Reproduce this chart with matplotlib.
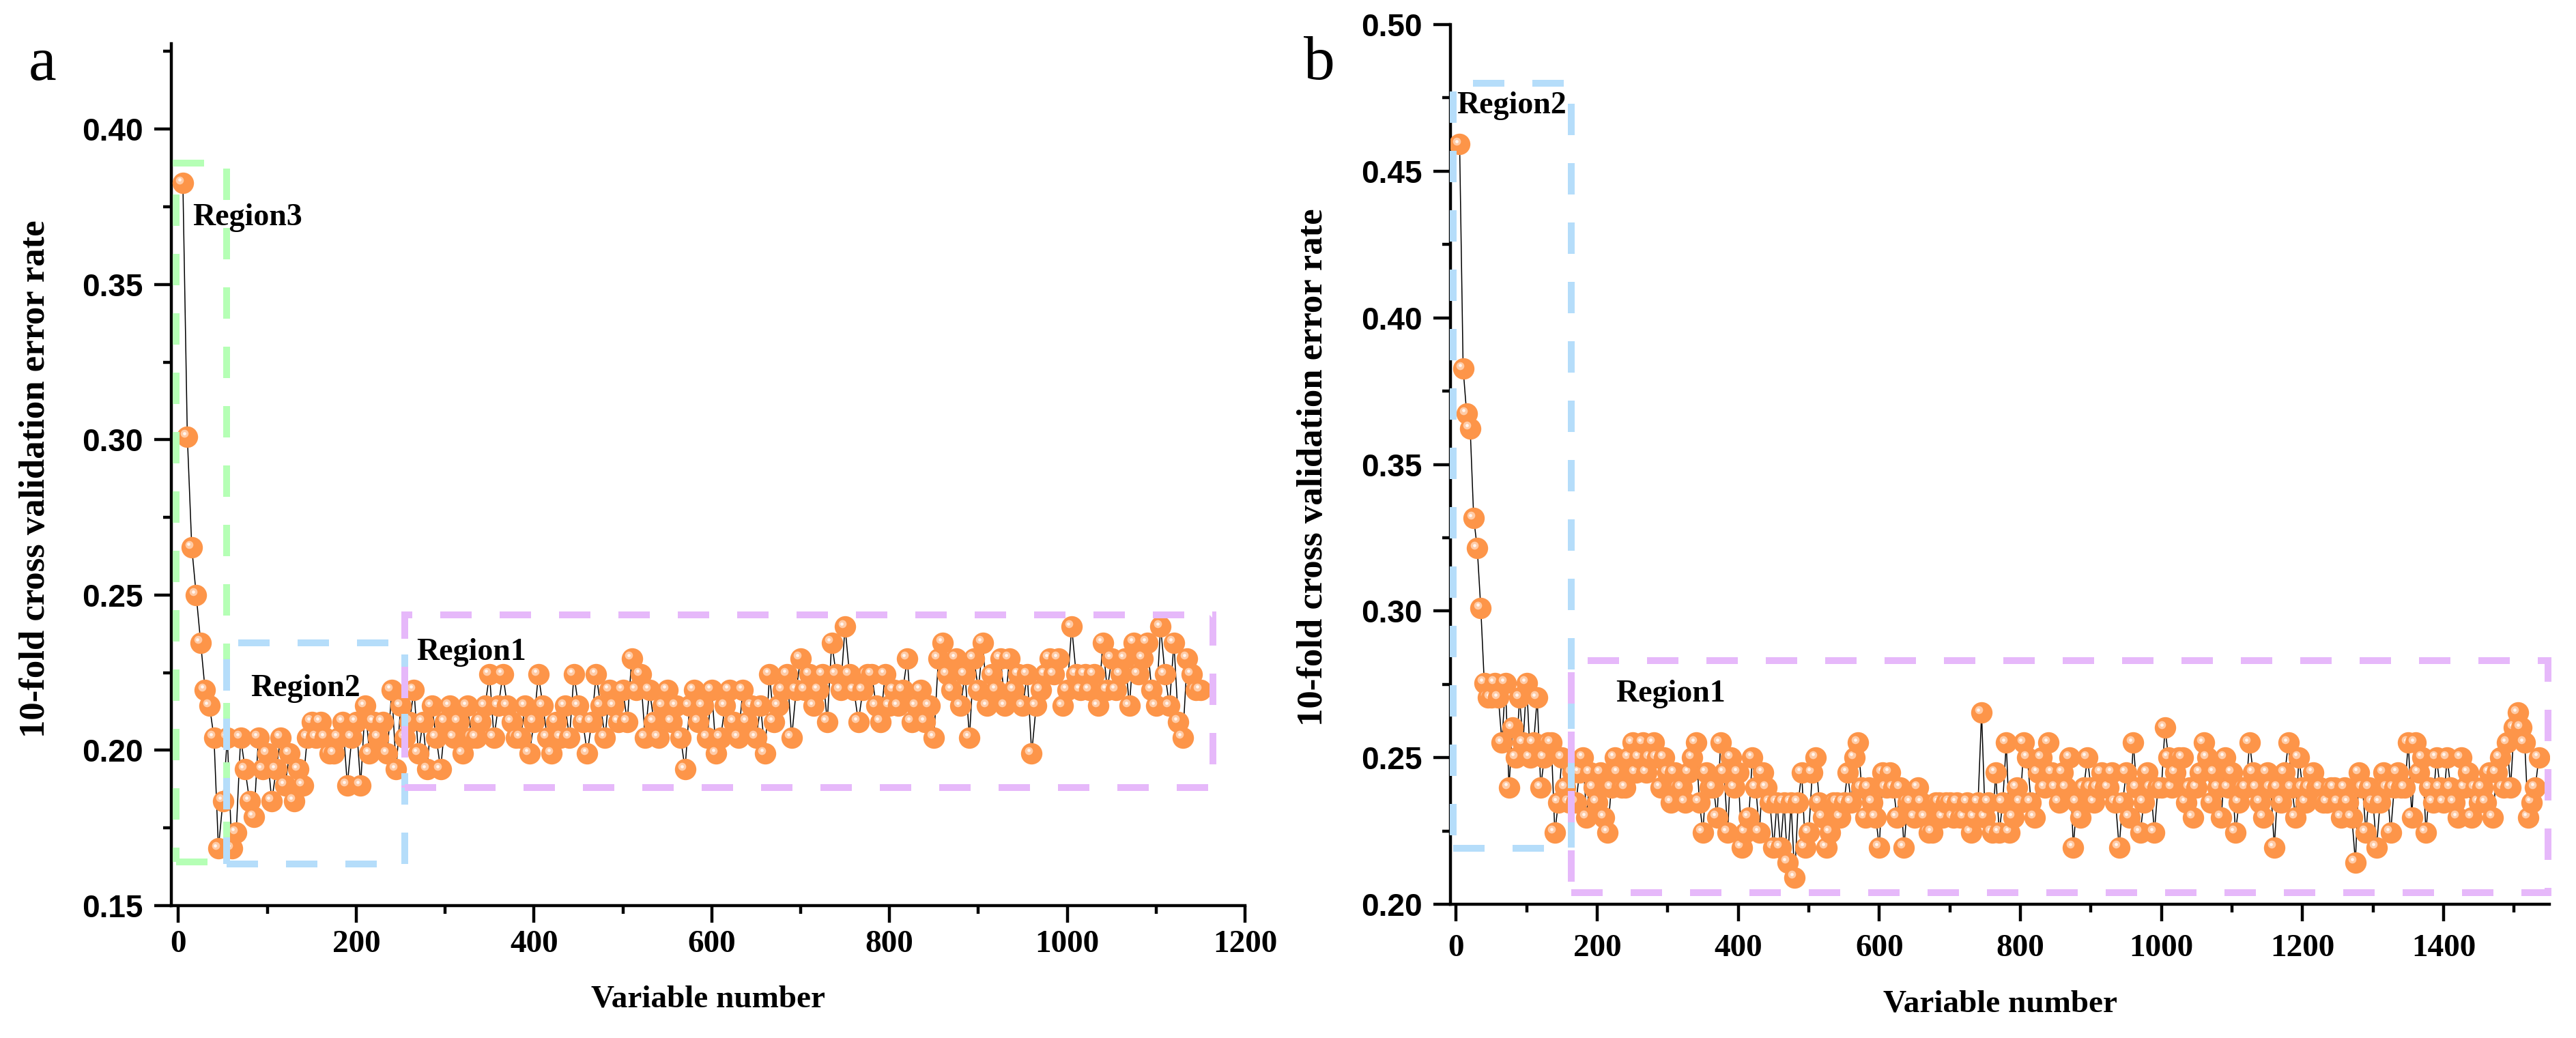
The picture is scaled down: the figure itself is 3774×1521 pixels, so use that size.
import numpy as np
import matplotlib
matplotlib.use('Agg')
from matplotlib import pyplot as plt
from matplotlib.patches import Rectangle
from matplotlib.ticker import MultipleLocator, FormatStrFormatter
from matplotlib.transforms import offset_copy

# error rates are misclassified samples out of 196
N_SAMPLES = 196

# panel a: variables 5, 10, ..., 1150
vars_a = np.arange(5, 1155, 5)
errors_a = [
    75, 59, 52, 49, 46, 43, 42, 40, 33, 36,
    40, 33, 34, 40, 38, 36, 35, 40, 38, 39,
    36, 38, 40, 37, 39, 36, 38, 37, 40, 41,
    40, 41, 40, 39, 39, 40, 41, 37, 40, 41,
    37, 42, 39, 41, 40, 41, 39, 43, 38, 42,
    40, 41, 43, 39, 41, 38, 42, 40, 38, 41,
    42, 40, 41, 39, 42, 40, 40, 41, 42, 44,
    40, 42, 44, 42, 41, 40, 40, 42, 39, 41,
    44, 42, 40, 39, 41, 40, 42, 40, 44, 42,
    41, 39, 41, 44, 42, 40, 43, 42, 41, 43,
    41, 45, 43, 44, 40, 43, 41, 40, 42, 43,
    41, 42, 40, 38, 42, 43, 41, 42, 40, 43,
    39, 40, 42, 43, 41, 40, 43, 41, 42, 40,
    42, 39, 44, 41, 42, 43, 44, 40, 43, 45,
    43, 44, 42, 43, 44, 41, 46, 44, 43, 47,
    44, 43, 41, 43, 44, 44, 42, 41, 44, 42,
    43, 42, 43, 45, 41, 42, 43, 41, 42, 40,
    45, 46, 44, 43, 45, 42, 44, 40, 45, 43,
    46, 42, 44, 43, 45, 42, 45, 43, 44, 42,
    44, 39, 42, 43, 44, 45, 44, 45, 42, 43,
    47, 44, 43, 44, 43, 44, 42, 46, 43, 45,
    43, 44, 45, 42, 46, 44, 45, 46, 43, 42,
    47, 44, 42, 46, 41, 40, 45, 44, 43, 43,
]

# panel b: variables 5, 10, ..., 1535
vars_b = np.arange(5, 1540, 5)
errors_b = [
    90, 75, 72, 71, 65, 63, 59, 54, 53, 53,
    54, 53, 50, 54, 47, 51, 49, 53, 50, 54,
    49, 50, 53, 47, 49, 50, 50, 44, 46, 49,
    47, 46, 48, 46, 48, 49, 45, 48, 47, 46,
    48, 45, 44, 47, 49, 48, 47, 47, 49, 50,
    48, 49, 50, 48, 49, 50, 49, 47, 49, 48,
    46, 48, 47, 47, 46, 48, 49, 50, 46, 44,
    48, 47, 47, 45, 50, 48, 44, 49, 47, 48,
    43, 44, 45, 49, 47, 44, 48, 47, 46, 43,
    46, 43, 46, 42, 46, 41, 46, 48, 43, 44,
    48, 49, 46, 45, 43, 44, 46, 46, 45, 46,
    48, 46, 49, 50, 47, 45, 47, 46, 45, 43,
    48, 47, 48, 47, 45, 47, 43, 46, 46, 45,
    47, 46, 45, 44, 44, 46, 46, 45, 46, 46,
    45, 46, 45, 45, 46, 44, 45, 46, 52, 45,
    46, 44, 48, 44, 46, 50, 44, 45, 47, 46,
    50, 49, 46, 45, 48, 49, 47, 50, 48, 47,
    46, 48, 47, 49, 43, 46, 45, 47, 49, 47,
    46, 47, 48, 47, 47, 48, 46, 43, 46, 48,
    45, 50, 47, 44, 46, 48, 47, 44, 47, 47,
    51, 49, 47, 48, 49, 49, 46, 47, 45, 47,
    48, 50, 49, 46, 48, 47, 45, 49, 47, 48,
    44, 46, 47, 47, 50, 48, 47, 46, 45, 48,
    47, 43, 47, 46, 48, 50, 47, 45, 49, 47,
    46, 47, 48, 47, 47, 46, 46, 47, 47, 46,
    45, 47, 46, 45, 42, 48, 47, 44, 47, 46,
    43, 46, 48, 47, 44, 47, 48, 47, 47, 50,
    45, 50, 48, 49, 44, 47, 46, 49, 47, 46,
    49, 47, 46, 45, 49, 47, 48, 45, 47, 46,
    47, 46, 48, 45, 48, 49, 47, 50, 47, 51,
    52, 51, 50, 45, 46, 47, 49,
]

rate_a = np.array(errors_a) / N_SAMPLES
rate_b = np.array(errors_b) / N_SAMPLES

# dashed region boxes: (x0, x1, y0, y1, colour)
regions_a = [(-3, 54, 0.164, 0.389, '#B5FFB5'),
             (54, 255, 0.1635, 0.2345, '#B5DDFA'),
             (255, 1164, 0.188, 0.2435, '#E6B8FA')]
regions_b = [(-4, 163, 0.219, 0.480, '#B5DDFA'),
             (163, 1548, 0.204, 0.283, '#E6B8FA')]
labels_a = [(16, 0.376, 'Region3'), (81, 0.2245, 'Region2'), (268, 0.2362, 'Region1')]
labels_b = [(1, 0.4772, 'Region2'), (226, 0.2765, 'Region1')]

BALL = '#FD9549'
SERIF = ['Liberation Serif', 'DejaVu Serif']
SANS = ['Liberation Sans', 'DejaVu Sans']

fig = plt.figure(figsize=(18.87, 7.605), dpi=200)
ax_a = fig.add_axes([0.06651, 0.12755, 0.4168, 0.83037])
ax_b = fig.add_axes([0.56306, 0.12886, 0.42661, 0.84747])


def draw_balls(ax, x, y):
    ax.plot(x, y, color='black', lw=0.55, zorder=2)
    ring = offset_copy(ax.transData, fig=fig, x=-1.6, y=1.6, units='points')
    core = offset_copy(ax.transData, fig=fig, x=-1.7, y=1.7, units='points')
    for i, (xi, yi) in enumerate(zip(x, y)):
        z = 3 + i * 1e-3
        ax.plot(xi, yi, 'o', ms=11.3, mfc=BALL, mec='none', zorder=z)
        ax.plot(xi, yi, 'o', ms=4.2, mfc='#FFCBA6', mec='none', zorder=z, transform=ring)
        ax.plot(xi, yi, 'o', ms=1.7, mfc='#FFF6F0', mec='none', zorder=z, transform=core)


def style_axes(ax, xlim, ylim, xpad):
    ax.set_xlim(*xlim)
    ax.set_ylim(*ylim)
    for side in ('top', 'right'):
        ax.spines[side].set_visible(False)
    for side in ('left', 'bottom'):
        ax.spines[side].set_linewidth(1.6)
    ax.xaxis.set_major_locator(MultipleLocator(200))
    ax.xaxis.set_minor_locator(MultipleLocator(100))
    ax.yaxis.set_major_locator(MultipleLocator(0.05))
    ax.yaxis.set_minor_locator(MultipleLocator(0.025))
    ax.yaxis.set_major_formatter(FormatStrFormatter('%.2f'))
    ax.tick_params(which='major', length=9, width=1.6, direction='out')
    ax.tick_params(which='minor', length=4.3, width=1.6, direction='out')
    ax.tick_params(axis='x', which='major', pad=xpad)
    ax.tick_params(axis='y', which='major', pad=6)
    for lab in ax.get_xticklabels():
        lab.set_fontfamily(SERIF)
        lab.set_fontweight('bold')
        lab.set_fontsize(17)
    for lab in ax.get_yticklabels():
        lab.set_fontfamily(SANS)
        lab.set_fontweight('bold')
        lab.set_fontsize(16.5)
    ax.set_xlabel('Variable number', fontfamily=SERIF, fontweight='bold', fontsize=17, labelpad=14)
    ax.set_ylabel('10-fold cross validation error rate', fontfamily=SERIF, fontweight='bold', fontsize=19)


def draw_regions(ax, regions, labels):
    for x0, x1, y0, y1, col in regions:
        ax.add_patch(Rectangle((x0, y0), x1 - x0, y1 - y0, fill=False, ec=col, lw=3.6,
                               ls=(0, (4.6, 4.1)), zorder=6, clip_on=False))
    for x, y, txt in labels:
        ax.text(x, y, txt, ha='left', va='top', fontfamily=SERIF, fontweight='bold',
                fontsize=16.5, zorder=7)


draw_balls(ax_a, vars_a, rate_a)
style_axes(ax_a, (-8, 1200), (0.15, 0.4275), 4)
draw_regions(ax_a, regions_a, labels_a)
ax_a.yaxis.set_label_coords(-0.111, 0.495)

draw_balls(ax_b, vars_b, rate_b)
style_axes(ax_b, (-8, 1550), (0.20, 0.50), 7)
draw_regions(ax_b, regions_b, labels_b)
ax_b.yaxis.set_label_coords(-0.110, 0.497)

fig.text(42 / 3774, 1 - 117 / 1521, 'a', fontfamily=SERIF, fontsize=33, ha='left', va='baseline')
fig.text(1910 / 3774, 1 - 116 / 1521, 'b', fontfamily=SERIF, fontsize=33, ha='left', va='baseline')

fig.savefig('out.png', dpi=200)
